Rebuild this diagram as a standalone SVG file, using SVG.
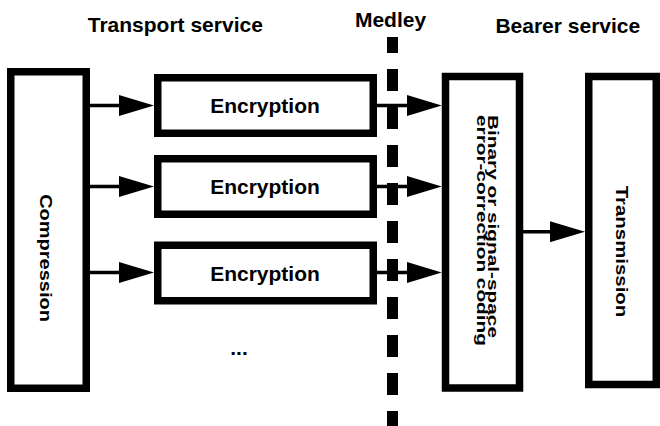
<svg xmlns="http://www.w3.org/2000/svg" width="660" height="426" viewBox="0 0 660 426">
  <style>
    .box { fill: #fff; stroke: #000; stroke-width: 7.5; }
    .lbl { font-family: "Liberation Sans", Arial, Helvetica, sans-serif; font-weight: bold; fill: #000; }
    .head { font-size: 21px; text-anchor: middle; }
    .mid { font-size: 21px; text-anchor: middle; }
    .vert { font-size: 20px; text-anchor: middle; }
    .link { stroke: #000; stroke-width: 3.5; fill: none; marker-end: url(#arrow); }
    .divider { stroke: #000; stroke-width: 11; stroke-dasharray: 22 16; stroke-dashoffset: 6; }
  </style>
  <defs>
    <marker id="arrow" markerUnits="userSpaceOnUse" markerWidth="35" markerHeight="21" refX="25" refY="10.5" orient="auto">
      <path d="M0,0 L35,10.5 L0,21 Z" fill="#000"/>
    </marker>
  </defs>
  <rect width="660" height="426" fill="#fff"/>

  <!-- section headings -->
  <g id="headings" class="lbl head">
    <text x="175.3" y="31.7">Transport service</text>
    <text x="390.5" y="27.3">Medley</text>
    <text x="567.8" y="32.7">Bearer service</text>
  </g>

  <!-- boundary between transport and bearer services -->
  <line id="medley-divider" class="divider" x1="392.5" y1="37" x2="392.5" y2="426"/>

  <g id="compression">
    <rect class="box" x="10.75" y="71.75" width="75.5" height="316.5"/>
    <text class="lbl vert" transform="translate(40,258) rotate(90) scale(1,0.86)">Compression</text>
  </g>

  <g id="encryption-1">
    <rect class="box" x="157.75" y="77.75" width="215.5" height="55.5"/>
    <text class="lbl mid" x="265" y="113">Encryption</text>
  </g>
  <g id="encryption-2">
    <rect class="box" x="157.75" y="158.75" width="215.5" height="55.5"/>
    <text class="lbl mid" x="265" y="194">Encryption</text>
  </g>
  <g id="encryption-3">
    <rect class="box" x="157.75" y="245.25" width="215.5" height="55.5"/>
    <text class="lbl mid" x="265" y="280.5">Encryption</text>
  </g>
  <g id="more-channels">
    <text class="lbl mid" x="239" y="354.5">...</text>
  </g>

  <g id="coding">
    <rect class="box" x="445.5" y="76.5" width="74" height="311.5"/>
    <text class="lbl" font-size="20.8" transform="translate(488,115) rotate(90) scale(1,0.66)">Binary or signal-space</text>
    <text class="lbl" font-size="20.8" transform="translate(477,115) rotate(90) scale(1,0.66)">error-correction coding</text>
  </g>

  <g id="transmission">
    <rect class="box" x="588.75" y="76.5" width="67.5" height="308"/>
    <text class="lbl vert" transform="translate(616,251.5) rotate(90) scale(1.02,0.86)">Transmission</text>
  </g>

  <g id="connectors">
    <line class="link" x1="90" y1="105.5" x2="144" y2="105.5"/>
    <line class="link" x1="90" y1="186.5" x2="144" y2="186.5"/>
    <line class="link" x1="90" y1="272.5" x2="144" y2="272.5"/>
    <line class="link" x1="377" y1="105.5" x2="431.7" y2="105.5"/>
    <line class="link" x1="377" y1="186.5" x2="431.7" y2="186.5"/>
    <line class="link" x1="377" y1="272.5" x2="431.7" y2="272.5"/>
    <line class="link" x1="523" y1="231.7" x2="575" y2="231.7"/>
  </g>
</svg>
